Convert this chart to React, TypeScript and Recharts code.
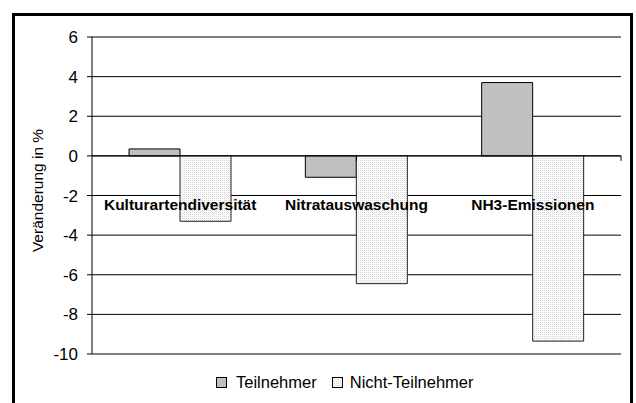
import {
  BarChart,
  Bar,
  XAxis,
  YAxis,
  CartesianGrid,
  ReferenceLine,
  ReferenceArea,
  ReferenceDot,
} from 'recharts';

const categories = ['Kulturartendiversität', 'Nitratauswaschung', 'NH3-Emissionen'];
const teilnehmer = [0.35, -1.08, 3.7];
const nichtTeilnehmer = [-3.3, -6.45, -9.35];
const yTicks = [-10, -8, -6, -4, -2, 0, 2, 4, 6];
const seriesNames = ['Teilnehmer', 'Nicht-Teilnehmer'];
const boundaries = [1, 2];

const data = categories.map((name, i) => ({
  name,
  teil: teilnehmer[i],
  nicht: nichtTeilnehmer[i],
}));

const FONT = '"Liberation Sans", Arial, sans-serif';
const GREY = '#c0c0c0';

function Swatch({ fill }: { fill: string }) {
  return (
    <svg width={11} height={11} style={{ display: 'block' }}>
      <defs>
        <pattern id="legDots" width={2} height={2} patternUnits="userSpaceOnUse">
          <rect width={2} height={2} fill="#ffffff" />
          <rect width={1} height={1} fill="#d8d8d8" />
          <rect x={1} y={1} width={1} height={1} fill="#f2f2f2" />
        </pattern>
      </defs>
      <rect x={0.5} y={0.5} width={10} height={10} fill={fill} stroke="#000" strokeWidth={1} />
    </svg>
  );
}

export default function App() {
  return (
    <div
      style={{
        position: 'absolute',
        left: 0,
        top: 0,
        width: 636,
        height: 403,
        overflow: 'hidden',
        background: '#fff',
        fontFamily: FONT,
      }}
    >
      <div
        style={{
          position: 'absolute',
          left: 12,
          top: 13,
          width: 615,
          height: 420,
          border: '3px solid #000',
        }}
      />
      <div style={{ position: 'absolute', left: 0, top: 0 }}>
        <BarChart
          width={636}
          height={403}
          data={data}
          margin={{ top: 37, right: 15, bottom: 49, left: 0 }}
          barSize={51}
          barGap={0}
        >
          <defs>
            <pattern id="dots" width={2} height={2} patternUnits="userSpaceOnUse">
              <rect width={2} height={2} fill="#ffffff" />
              <rect width={1} height={1} fill="#d8d8d8" />
              <rect x={1} y={1} width={1} height={1} fill="#f2f2f2" />
            </pattern>
          </defs>
          <CartesianGrid vertical={false} stroke="#000" />
          <XAxis xAxisId="cat" dataKey="name" hide />
          <XAxis xAxisId="num" type="number" domain={[0, 3]} hide />
          <YAxis
            domain={[-10, 6]}
            ticks={yTicks}
            interval={0}
            width={92}
            tickSize={5}
            tickMargin={9}
            axisLine={{ stroke: '#000' }}
            tickLine={{ stroke: '#000' }}
            tick={{ fill: '#000', fontSize: 17, fontFamily: FONT }}
            label={{
              value: 'Veränderung in %',
              angle: -90,
              position: 'center',
              dx: -9,
              dy: -5,
              style: { fill: '#000', fontSize: 15.5, fontFamily: FONT },
            }}
          />
          <ReferenceArea
            xAxisId="num"
            x1={0}
            x2={3}
            y1={-10}
            y2={6}
            fill="none"
            stroke="#8a8a8a"
            strokeWidth={1.5}
          />
          <Bar
            xAxisId="cat"
            dataKey="teil"
            name={seriesNames[0]}
            fill={GREY}
            stroke="#000"
            strokeWidth={1}
            isAnimationActive={false}
          />
          <Bar
            xAxisId="cat"
            dataKey="nicht"
            name={seriesNames[1]}
            fill="url(#dots)"
            stroke="#222"
            strokeWidth={1}
            isAnimationActive={false}
          />
          <ReferenceLine xAxisId="num" y={0} stroke="#000" />
          {boundaries.map((b) => (
            <ReferenceLine
              key={b}
              xAxisId="num"
              segment={[
                { x: b, y: 0 },
                { x: b, y: -0.25 },
              ]}
              stroke="#000"
            />
          ))}
          {categories.map((c) => (
            <ReferenceDot
              key={c}
              xAxisId="cat"
              x={c}
              y={-2.45}
              r={0}
              fill="none"
              stroke="none"
              label={{
                value: c,
                position: 'center',
                style: { fill: '#000', fontSize: 15.5, fontWeight: 'bold', fontFamily: FONT },
              }}
            />
          ))}
        </BarChart>
      </div>
      <div
        style={{
          position: 'absolute',
          left: 216,
          top: 372,
          display: 'flex',
          alignItems: 'center',
          fontSize: 16.5,
          color: '#000',
          lineHeight: '20px',
        }}
      >
        <Swatch fill={GREY} />
        <span style={{ marginLeft: 9, marginRight: 15 }}>{seriesNames[0]}</span>
        <Swatch fill="url(#legDots)" />
        <span style={{ marginLeft: 7 }}>{seriesNames[1]}</span>
      </div>
    </div>
  );
}
